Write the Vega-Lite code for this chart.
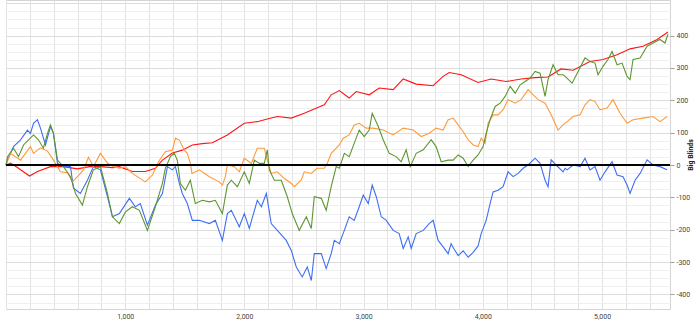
{
"$schema":"https://vega.github.io/schema/vega-lite/v6.json",
"width":664,"height":309,
"autosize":{"type":"none"},
"padding":{"left":6,"top":0,"right":30,"bottom":15},
"background":"white",
"config":{"view":{"stroke":"#d4d4d4"},"axis":{"labelFont":"Roboto","titleFont":"Roboto","labelFontSize":7,"labelColor":"#444444"}},
"encoding":{
"y":{"field":"v","type":"quantitative","scale":{"domain":[-445,510],"nice":false,"zero":false},
"axis":{"orient":"right","title":"Big Blinds","titleFontWeight":"bold","titleFontSize":7,"titleColor":"#222222","titleAngle":-90,"titlePadding":4,
"values":[-425,-400,-375,-350,-325,-300,-275,-250,-225,-200,-175,-150,-125,-100,-75,-50,-25,0,25,50,75,100,125,150,175,200,225,250,275,300,325,350,375,400,425,450,475,500],
"labelExpr":"(datum.value % 100 === 0 && abs(datum.value) <= 400) ? ('' + datum.value) : ''",
"tickOpacity":{"condition":{"test":"datum.value % 100 === 0 && abs(datum.value) <= 400","value":1},"value":0},
"gridColor":{"condition":{"test":"datum.value % 100 === 0","value":"#dcdcdc"},"value":"#efefef"},
"tickSize":4,"tickColor":"#a0a0a0","domain":false,"labelPadding":2,"labelOverlap":false,"labelFlush":false}}
},
"layer":[
{"data":{"values":[
{"s":"red","h":0,"v":0},{"s":"red","h":38,"v":6},{"s":"red","h":105,"v":-10},{"s":"red","h":197,"v":-34},{"s":"red","h":264,"v":-20},{"s":"red","h":373,"v":-5},{"s":"red","h":482,"v":-5},{"s":"red","h":599,"v":-12},{"s":"red","h":700,"v":-5},{"s":"red","h":792,"v":-5},{"s":"red","h":893,"v":-8},{"s":"red","h":951,"v":-5},{"s":"red","h":1060,"v":-20},{"s":"red","h":1169,"v":-20},{"s":"red","h":1253,"v":-10},{"s":"red","h":1312,"v":15},{"s":"red","h":1396,"v":37},{"s":"red","h":1479,"v":46},{"s":"red","h":1563,"v":62},{"s":"red","h":1647,"v":66},{"s":"red","h":1731,"v":69},{"s":"red","h":1857,"v":93},{"s":"red","h":1999,"v":129},{"s":"red","h":2108,"v":134},{"s":"red","h":2192,"v":142},{"s":"red","h":2276,"v":150},{"s":"red","h":2393,"v":145},{"s":"red","h":2502,"v":160},{"s":"red","h":2586,"v":173},{"s":"red","h":2670,"v":186},{"s":"red","h":2728,"v":217},{"s":"red","h":2796,"v":230},{"s":"red","h":2879,"v":207},{"s":"red","h":2938,"v":227},{"s":"red","h":3047,"v":217},{"s":"red","h":3131,"v":238},{"s":"red","h":3248,"v":233},{"s":"red","h":3332,"v":266},{"s":"red","h":3441,"v":250},{"s":"red","h":3583,"v":245},{"s":"red","h":3667,"v":274},{"s":"red","h":3718,"v":286},{"s":"red","h":3818,"v":279},{"s":"red","h":3960,"v":255},{"s":"red","h":4069,"v":266},{"s":"red","h":4195,"v":258},{"s":"red","h":4321,"v":266},{"s":"red","h":4438,"v":270},{"s":"red","h":4547,"v":272},{"s":"red","h":4656,"v":297},{"s":"red","h":4757,"v":293},{"s":"red","h":4899,"v":320},{"s":"red","h":5008,"v":326},{"s":"red","h":5126,"v":341},{"s":"red","h":5235,"v":359},{"s":"red","h":5344,"v":367},{"s":"red","h":5462,"v":388},{"s":"red","h":5553,"v":411},
{"s":"blue","h":0,"v":0},{"s":"blue","h":13,"v":16},{"s":"blue","h":63,"v":57},{"s":"blue","h":122,"v":78},{"s":"blue","h":180,"v":108},{"s":"blue","h":205,"v":98},{"s":"blue","h":231,"v":129},{"s":"blue","h":264,"v":140},{"s":"blue","h":289,"v":114},{"s":"blue","h":331,"v":62},{"s":"blue","h":373,"v":119},{"s":"blue","h":398,"v":98},{"s":"blue","h":432,"v":5},{"s":"blue","h":482,"v":-5},{"s":"blue","h":541,"v":-5},{"s":"blue","h":566,"v":-72},{"s":"blue","h":624,"v":-88},{"s":"blue","h":683,"v":-47},{"s":"blue","h":733,"v":-5},{"s":"blue","h":792,"v":-15},{"s":"blue","h":851,"v":-98},{"s":"blue","h":893,"v":-160},{"s":"blue","h":951,"v":-150},{"s":"blue","h":1035,"v":-103},{"s":"blue","h":1085,"v":-129},{"s":"blue","h":1127,"v":-119},{"s":"blue","h":1186,"v":-186},{"s":"blue","h":1253,"v":-124},{"s":"blue","h":1312,"v":-88},{"s":"blue","h":1354,"v":-5},{"s":"blue","h":1396,"v":-15},{"s":"blue","h":1421,"v":-5},{"s":"blue","h":1454,"v":-57},{"s":"blue","h":1479,"v":-88},{"s":"blue","h":1521,"v":-119},{"s":"blue","h":1563,"v":-171},{"s":"blue","h":1622,"v":-171},{"s":"blue","h":1706,"v":-181},{"s":"blue","h":1756,"v":-171},{"s":"blue","h":1815,"v":-233},{"s":"blue","h":1857,"v":-150},{"s":"blue","h":1890,"v":-140},{"s":"blue","h":1957,"v":-191},{"s":"blue","h":1999,"v":-150},{"s":"blue","h":2041,"v":-196},{"s":"blue","h":2108,"v":-109},{"s":"blue","h":2142,"v":-129},{"s":"blue","h":2184,"v":-88},{"s":"blue","h":2225,"v":-181},{"s":"blue","h":2276,"v":-202},{"s":"blue","h":2351,"v":-233},{"s":"blue","h":2393,"v":-264},{"s":"blue","h":2435,"v":-315},{"s":"blue","h":2485,"v":-346},{"s":"blue","h":2527,"v":-315},{"s":"blue","h":2561,"v":-357},{"s":"blue","h":2586,"v":-274},{"s":"blue","h":2645,"v":-274},{"s":"blue","h":2686,"v":-320},{"s":"blue","h":2728,"v":-274},{"s":"blue","h":2754,"v":-233},{"s":"blue","h":2796,"v":-243},{"s":"blue","h":2838,"v":-202},{"s":"blue","h":2879,"v":-160},{"s":"blue","h":2921,"v":-171},{"s":"blue","h":2963,"v":-129},{"s":"blue","h":2997,"v":-93},{"s":"blue","h":3039,"v":-119},{"s":"blue","h":3072,"v":-62},{"s":"blue","h":3106,"v":-98},{"s":"blue","h":3148,"v":-160},{"s":"blue","h":3190,"v":-171},{"s":"blue","h":3248,"v":-202},{"s":"blue","h":3298,"v":-212},{"s":"blue","h":3332,"v":-258},{"s":"blue","h":3374,"v":-222},{"s":"blue","h":3399,"v":-258},{"s":"blue","h":3441,"v":-212},{"s":"blue","h":3500,"v":-202},{"s":"blue","h":3550,"v":-181},{"s":"blue","h":3583,"v":-171},{"s":"blue","h":3625,"v":-233},{"s":"blue","h":3667,"v":-253},{"s":"blue","h":3709,"v":-274},{"s":"blue","h":3734,"v":-243},{"s":"blue","h":3751,"v":-255},{"s":"blue","h":3793,"v":-280},{"s":"blue","h":3835,"v":-265},{"s":"blue","h":3877,"v":-285},{"s":"blue","h":3919,"v":-270},{"s":"blue","h":3960,"v":-250},{"s":"blue","h":3986,"v":-212},{"s":"blue","h":4028,"v":-171},{"s":"blue","h":4061,"v":-119},{"s":"blue","h":4086,"v":-83},{"s":"blue","h":4128,"v":-78},{"s":"blue","h":4170,"v":-67},{"s":"blue","h":4212,"v":-21},{"s":"blue","h":4254,"v":-36},{"s":"blue","h":4296,"v":-26},{"s":"blue","h":4338,"v":-10},{"s":"blue","h":4380,"v":0},{"s":"blue","h":4438,"v":21},{"s":"blue","h":4480,"v":5},{"s":"blue","h":4522,"v":-47},{"s":"blue","h":4547,"v":-67},{"s":"blue","h":4573,"v":16},{"s":"blue","h":4615,"v":0},{"s":"blue","h":4673,"v":-21},{"s":"blue","h":4690,"v":-10},{"s":"blue","h":4707,"v":-15},{"s":"blue","h":4757,"v":0},{"s":"blue","h":4816,"v":-5},{"s":"blue","h":4857,"v":21},{"s":"blue","h":4899,"v":-15},{"s":"blue","h":4941,"v":-5},{"s":"blue","h":4983,"v":-47},{"s":"blue","h":5025,"v":-21},{"s":"blue","h":5084,"v":10},{"s":"blue","h":5126,"v":-31},{"s":"blue","h":5176,"v":-36},{"s":"blue","h":5210,"v":-62},{"s":"blue","h":5235,"v":-88},{"s":"blue","h":5277,"v":-47},{"s":"blue","h":5319,"v":-26},{"s":"blue","h":5378,"v":16},{"s":"blue","h":5428,"v":0},{"s":"blue","h":5486,"v":-5},{"s":"blue","h":5545,"v":-15},
{"s":"orange","h":0,"v":0},{"s":"orange","h":38,"v":36},{"s":"orange","h":122,"v":15},{"s":"orange","h":205,"v":57},{"s":"orange","h":231,"v":36},{"s":"orange","h":289,"v":53},{"s":"orange","h":348,"v":43},{"s":"orange","h":398,"v":15},{"s":"orange","h":457,"v":-21},{"s":"orange","h":516,"v":-24},{"s":"orange","h":557,"v":-52},{"s":"orange","h":599,"v":-36},{"s":"orange","h":650,"v":-15},{"s":"orange","h":692,"v":24},{"s":"orange","h":733,"v":-5},{"s":"orange","h":792,"v":36},{"s":"orange","h":851,"v":6},{"s":"orange","h":901,"v":-5},{"s":"orange","h":951,"v":-10},{"s":"orange","h":1002,"v":-5},{"s":"orange","h":1060,"v":-26},{"s":"orange","h":1169,"v":-52},{"s":"orange","h":1228,"v":-31},{"s":"orange","h":1287,"v":15},{"s":"orange","h":1337,"v":41},{"s":"orange","h":1396,"v":46},{"s":"orange","h":1421,"v":83},{"s":"orange","h":1454,"v":77},{"s":"orange","h":1496,"v":46},{"s":"orange","h":1521,"v":36},{"s":"orange","h":1546,"v":6},{"s":"orange","h":1560,"v":-26},{"s":"orange","h":1622,"v":-15},{"s":"orange","h":1706,"v":-36},{"s":"orange","h":1789,"v":-52},{"s":"orange","h":1815,"v":-62},{"s":"orange","h":1840,"v":-36},{"s":"orange","h":1857,"v":0},{"s":"orange","h":1915,"v":-5},{"s":"orange","h":1957,"v":-21},{"s":"orange","h":1999,"v":21},{"s":"orange","h":2058,"v":5},{"s":"orange","h":2108,"v":52},{"s":"orange","h":2167,"v":52},{"s":"orange","h":2192,"v":15},{"s":"orange","h":2225,"v":-26},{"s":"orange","h":2276,"v":-21},{"s":"orange","h":2334,"v":-41},{"s":"orange","h":2393,"v":-57},{"s":"orange","h":2418,"v":-67},{"s":"orange","h":2477,"v":-46},{"s":"orange","h":2502,"v":-21},{"s":"orange","h":2561,"v":-26},{"s":"orange","h":2611,"v":-10},{"s":"orange","h":2670,"v":-10},{"s":"orange","h":2695,"v":5},{"s":"orange","h":2728,"v":36},{"s":"orange","h":2796,"v":62},{"s":"orange","h":2829,"v":83},{"s":"orange","h":2879,"v":93},{"s":"orange","h":2921,"v":124},{"s":"orange","h":2963,"v":129},{"s":"orange","h":3022,"v":114},{"s":"orange","h":3081,"v":114},{"s":"orange","h":3164,"v":108},{"s":"orange","h":3248,"v":93},{"s":"orange","h":3332,"v":114},{"s":"orange","h":3416,"v":108},{"s":"orange","h":3483,"v":88},{"s":"orange","h":3550,"v":98},{"s":"orange","h":3608,"v":114},{"s":"orange","h":3667,"v":108},{"s":"orange","h":3709,"v":140},{"s":"orange","h":3751,"v":145},{"s":"orange","h":3793,"v":124},{"s":"orange","h":3835,"v":103},{"s":"orange","h":3877,"v":78},{"s":"orange","h":3919,"v":62},{"s":"orange","h":3960,"v":57},{"s":"orange","h":3986,"v":83},{"s":"orange","h":4019,"v":67},{"s":"orange","h":4044,"v":129},{"s":"orange","h":4086,"v":155},{"s":"orange","h":4128,"v":155},{"s":"orange","h":4170,"v":171},{"s":"orange","h":4212,"v":202},{"s":"orange","h":4271,"v":191},{"s":"orange","h":4321,"v":202},{"s":"orange","h":4380,"v":233},{"s":"orange","h":4422,"v":217},{"s":"orange","h":4464,"v":202},{"s":"orange","h":4522,"v":191},{"s":"orange","h":4573,"v":155},{"s":"orange","h":4631,"v":108},{"s":"orange","h":4673,"v":124},{"s":"orange","h":4707,"v":134},{"s":"orange","h":4757,"v":150},{"s":"orange","h":4816,"v":155},{"s":"orange","h":4857,"v":186},{"s":"orange","h":4899,"v":202},{"s":"orange","h":4941,"v":196},{"s":"orange","h":4983,"v":171},{"s":"orange","h":5042,"v":176},{"s":"orange","h":5092,"v":202},{"s":"orange","h":5151,"v":160},{"s":"orange","h":5210,"v":129},{"s":"orange","h":5260,"v":140},{"s":"orange","h":5344,"v":145},{"s":"orange","h":5428,"v":150},{"s":"orange","h":5486,"v":134},{"s":"orange","h":5545,"v":150},
{"s":"green","h":0,"v":0},{"s":"green","h":13,"v":26},{"s":"green","h":63,"v":52},{"s":"green","h":105,"v":26},{"s":"green","h":147,"v":62},{"s":"green","h":189,"v":78},{"s":"green","h":231,"v":93},{"s":"green","h":272,"v":78},{"s":"green","h":314,"v":52},{"s":"green","h":348,"v":98},{"s":"green","h":373,"v":124},{"s":"green","h":398,"v":98},{"s":"green","h":432,"v":15},{"s":"green","h":482,"v":-5},{"s":"green","h":541,"v":-36},{"s":"green","h":583,"v":-88},{"s":"green","h":641,"v":-124},{"s":"green","h":683,"v":-67},{"s":"green","h":733,"v":-15},{"s":"green","h":792,"v":-5},{"s":"green","h":851,"v":-88},{"s":"green","h":893,"v":-160},{"s":"green","h":951,"v":-181},{"s":"green","h":1002,"v":-145},{"s":"green","h":1060,"v":-129},{"s":"green","h":1119,"v":-140},{"s":"green","h":1186,"v":-202},{"s":"green","h":1253,"v":-129},{"s":"green","h":1312,"v":-57},{"s":"green","h":1337,"v":-10},{"s":"green","h":1379,"v":26},{"s":"green","h":1412,"v":36},{"s":"green","h":1437,"v":15},{"s":"green","h":1463,"v":-57},{"s":"green","h":1505,"v":-78},{"s":"green","h":1546,"v":-47},{"s":"green","h":1588,"v":-119},{"s":"green","h":1647,"v":-109},{"s":"green","h":1706,"v":-114},{"s":"green","h":1756,"v":-109},{"s":"green","h":1815,"v":-150},{"s":"green","h":1857,"v":-62},{"s":"green","h":1890,"v":-47},{"s":"green","h":1941,"v":-67},{"s":"green","h":1999,"v":-21},{"s":"green","h":2041,"v":-57},{"s":"green","h":2083,"v":15},{"s":"green","h":2125,"v":5},{"s":"green","h":2167,"v":5},{"s":"green","h":2192,"v":47},{"s":"green","h":2209,"v":-15},{"s":"green","h":2251,"v":-47},{"s":"green","h":2309,"v":-47},{"s":"green","h":2360,"v":-98},{"s":"green","h":2401,"v":-150},{"s":"green","h":2460,"v":-202},{"s":"green","h":2519,"v":-160},{"s":"green","h":2561,"v":-196},{"s":"green","h":2586,"v":-98},{"s":"green","h":2645,"v":-103},{"s":"green","h":2686,"v":-140},{"s":"green","h":2728,"v":-67},{"s":"green","h":2770,"v":-5},{"s":"green","h":2796,"v":-10},{"s":"green","h":2838,"v":36},{"s":"green","h":2879,"v":26},{"s":"green","h":2921,"v":67},{"s":"green","h":2963,"v":108},{"s":"green","h":3005,"v":88},{"s":"green","h":3047,"v":108},{"s":"green","h":3072,"v":160},{"s":"green","h":3123,"v":119},{"s":"green","h":3164,"v":78},{"s":"green","h":3215,"v":36},{"s":"green","h":3273,"v":26},{"s":"green","h":3315,"v":10},{"s":"green","h":3357,"v":47},{"s":"green","h":3391,"v":-5},{"s":"green","h":3441,"v":36},{"s":"green","h":3500,"v":47},{"s":"green","h":3567,"v":78},{"s":"green","h":3608,"v":57},{"s":"green","h":3651,"v":10},{"s":"green","h":3709,"v":15},{"s":"green","h":3751,"v":15},{"s":"green","h":3793,"v":31},{"s":"green","h":3835,"v":21},{"s":"green","h":3877,"v":-5},{"s":"green","h":3919,"v":15},{"s":"green","h":3960,"v":31},{"s":"green","h":4002,"v":57},{"s":"green","h":4028,"v":98},{"s":"green","h":4061,"v":140},{"s":"green","h":4103,"v":181},{"s":"green","h":4145,"v":191},{"s":"green","h":4187,"v":212},{"s":"green","h":4229,"v":243},{"s":"green","h":4271,"v":222},{"s":"green","h":4313,"v":248},{"s":"green","h":4355,"v":258},{"s":"green","h":4397,"v":269},{"s":"green","h":4438,"v":289},{"s":"green","h":4480,"v":284},{"s":"green","h":4522,"v":212},{"s":"green","h":4547,"v":264},{"s":"green","h":4589,"v":310},{"s":"green","h":4631,"v":279},{"s":"green","h":4673,"v":279},{"s":"green","h":4690,"v":274},{"s":"green","h":4749,"v":253},{"s":"green","h":4799,"v":289},{"s":"green","h":4857,"v":331},{"s":"green","h":4899,"v":320},{"s":"green","h":4941,"v":315},{"s":"green","h":4966,"v":279},{"s":"green","h":5008,"v":305},{"s":"green","h":5050,"v":326},{"s":"green","h":5084,"v":351},{"s":"green","h":5126,"v":310},{"s":"green","h":5168,"v":315},{"s":"green","h":5210,"v":274},{"s":"green","h":5235,"v":264},{"s":"green","h":5260,"v":326},{"s":"green","h":5319,"v":331},{"s":"green","h":5378,"v":367},{"s":"green","h":5428,"v":377},{"s":"green","h":5486,"v":388},{"s":"green","h":5528,"v":377},{"s":"green","h":5553,"v":404}
]},
"mark":{"type":"line","strokeWidth":1.1},
"encoding":{
"x":{"field":"h","type":"quantitative","scale":{"domain":[0,5570],"nice":false,"zero":false},
"axis":{"title":null,"values":[0,200,400,600,800,1000,1200,1400,1600,1800,2000,2200,2400,2600,2800,3000,3200,3400,3600,3800,4000,4200,4400,4600,4800,5000,5200,5400],"labelExpr":"datum.value % 1000 === 0 && datum.value > 0 ? format(datum.value, ',') : ''","ticks":false,"domain":false,"gridColor":"#e3e3e3","labelPadding":3,"labelOverlap":false,"labelFlush":false}},
"color":{"field":"s","type":"nominal","scale":{"domain":["red","blue","orange","green"],"range":["#ff1414","#3e6ef3","#ff9a3a","#5e9630"]},"legend":null}
}},
{"data":{"values":[{"v":0}]},"mark":{"type":"rule","color":"#000000","strokeWidth":2}}
]
}
